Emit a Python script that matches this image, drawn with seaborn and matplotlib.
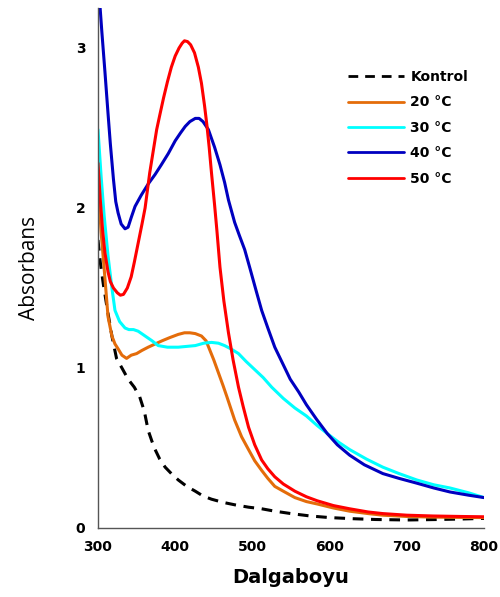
import pandas as pd
import matplotlib.pyplot as plt
import seaborn as sns

# --- data ---
kontrol_x = [300, 303, 307, 313, 318, 324, 331, 339, 347, 354, 360, 365, 370, 374, 380, 387, 395, 404, 415, 426, 436, 447, 462, 477, 495, 512, 529, 550, 575, 600, 630, 660, 700, 740, 770, 800]
kontrol_y = [1.80, 1.66, 1.52, 1.34, 1.20, 1.06, 1.00, 0.93, 0.88, 0.82, 0.73, 0.61, 0.54, 0.49, 0.43, 0.38, 0.34, 0.30, 0.26, 0.23, 0.20, 0.18, 0.16, 0.145, 0.13, 0.12, 0.105, 0.09, 0.075, 0.065, 0.058, 0.053, 0.05, 0.053, 0.056, 0.06]

t20_x = [300, 304, 308, 313, 318, 322, 326, 331, 337, 343, 350, 357, 365, 374, 383, 393, 404, 412, 419, 426, 434, 440, 445, 450, 456, 462, 467, 477, 486, 495, 503, 512, 520, 529, 540, 555, 570, 584, 605, 626, 650, 669, 700, 734, 770, 800]
t20_y = [2.15, 1.85, 1.62, 1.32, 1.20, 1.15, 1.12, 1.08, 1.06, 1.08, 1.09, 1.11, 1.13, 1.15, 1.17, 1.19, 1.21, 1.22, 1.22, 1.215, 1.20, 1.17, 1.11, 1.05, 0.97, 0.89, 0.82, 0.675, 0.57, 0.49, 0.42, 0.36, 0.31, 0.26, 0.23, 0.19, 0.165, 0.15, 0.125, 0.105, 0.09, 0.08, 0.072, 0.068, 0.066, 0.065]

t30_x = [300, 304, 308, 313, 318, 322, 328, 335, 340, 346, 352, 361, 370, 378, 390, 404, 415, 426, 437, 447, 456, 464, 472, 482, 492, 503, 514, 525, 540, 555, 570, 584, 597, 612, 626, 648, 669, 690, 713, 735, 756, 780, 800]
t30_y = [2.49, 2.20, 1.95, 1.70, 1.50, 1.36, 1.29, 1.25, 1.24, 1.24, 1.23, 1.20, 1.17, 1.14, 1.13, 1.13, 1.135, 1.14, 1.155, 1.16, 1.155, 1.14, 1.12, 1.09, 1.04, 0.99, 0.94, 0.88, 0.81, 0.75, 0.70, 0.64, 0.59, 0.535, 0.49, 0.43, 0.38, 0.34, 0.30, 0.27, 0.25, 0.22, 0.19]

t40_x = [300, 302, 305, 309, 313, 316, 320, 323, 326, 330, 335, 339, 343, 348, 356, 365, 374, 382, 391, 400, 407, 413, 419, 426, 431, 436, 443, 451, 458, 464, 469, 477, 483, 490, 497, 505, 512, 520, 529, 540, 549, 560, 570, 583, 597, 610, 626, 645, 669, 690, 713, 735, 756, 780, 800]
t40_y = [3.45, 3.30, 3.10, 2.85, 2.59, 2.40, 2.18, 2.04, 1.97, 1.90, 1.87, 1.88, 1.94, 2.01, 2.08, 2.15, 2.21, 2.27, 2.34, 2.42, 2.47, 2.51, 2.54, 2.56, 2.56, 2.54, 2.49, 2.38, 2.27, 2.16, 2.05, 1.91, 1.83, 1.74, 1.62, 1.48, 1.36, 1.25, 1.13, 1.02, 0.93, 0.85, 0.77, 0.68, 0.59, 0.52, 0.455, 0.395, 0.34, 0.31, 0.28, 0.25, 0.225, 0.205, 0.19]

t50_x = [300, 303, 306, 309, 313, 316, 320, 325, 329, 333, 338, 343, 347, 352, 357, 361, 367, 372, 376, 380, 385, 390, 395, 400, 405, 409, 412, 416, 420, 425, 430, 434, 438, 441, 444, 447, 451, 454, 458, 463, 469, 475, 482, 488, 495, 503, 512, 520, 529, 540, 555, 570, 584, 605, 626, 650, 669, 700, 734, 770, 800]
t50_y = [2.28, 2.05, 1.86, 1.72, 1.60, 1.54, 1.50, 1.47, 1.455, 1.46, 1.50, 1.57, 1.66, 1.78, 1.90, 2.00, 2.22, 2.37, 2.49, 2.58, 2.69, 2.79, 2.88, 2.95, 3.00, 3.03, 3.045, 3.04, 3.02, 2.97, 2.88, 2.78, 2.64, 2.52, 2.38, 2.22, 2.02, 1.86, 1.63, 1.42, 1.22, 1.05, 0.88, 0.76, 0.63, 0.52, 0.425, 0.37, 0.32, 0.275, 0.23, 0.195, 0.17, 0.14, 0.12, 0.10, 0.09, 0.08, 0.075, 0.072, 0.07]

labels = ["Kontrol", "20 °C", "30 °C", "40 °C", "50 °C"]
colors = ["black", "#E46C0A", "#00FFFF", "#0000C0", "#FF0000"]

frames = []
for lab, xs, ys in zip(labels,
                       [kontrol_x, t20_x, t30_x, t40_x, t50_x],
                       [kontrol_y, t20_y, t30_y, t40_y, t50_y]):
    frames.append(pd.DataFrame({"Dalgaboyu": xs, "Absorbans": ys, "Seri": lab}))
df = pd.concat(frames, ignore_index=True)

# --- plot ---
sns.set_style("white")
plt.rcParams["font.family"] = ["DejaVu Sans"]
plt.rcParams["text.color"] = "black"
plt.rcParams["axes.labelcolor"] = "black"
plt.rcParams["xtick.color"] = "black"
plt.rcParams["ytick.color"] = "black"
plt.rcParams["lines.solid_capstyle"] = "round"
plt.rcParams["lines.solid_joinstyle"] = "round"

fig = plt.figure(figsize=(5, 5.97), dpi=100)
ax = fig.add_axes([0.196, 0.1156, 0.772, 0.871])

sns.lineplot(data=df, x="Dalgaboyu", y="Absorbans", hue="Seri", style="Seri",
             palette=dict(zip(labels, colors)),
             dashes={"Kontrol": (3.5, 2.5), "20 °C": "", "30 °C": "", "40 °C": "", "50 °C": ""},
             linewidth=2.2, sort=False, estimator=None, ax=ax)

ax.set_xlim(300, 800)
ax.set_ylim(0, 3.25)
ax.set_xticks([300, 400, 500, 600, 700, 800])
ax.set_yticks([0, 1, 2, 3])
ax.tick_params(axis="both", direction="out", length=5, width=1, color="#555555",
               labelsize=10, pad=4)
for t in ax.get_xticklabels() + ax.get_yticklabels():
    t.set_fontweight("bold")

for s in ["top", "right"]:
    ax.spines[s].set_visible(False)
for s in ["left", "bottom"]:
    ax.spines[s].set_color("#555555")
    ax.spines[s].set_linewidth(1)

ax.set_xlabel("Dalgaboyu", fontsize=14, fontweight="bold", labelpad=10)
ax.set_ylabel("Absorbans", fontsize=15, family="Open Sans", labelpad=26)

leg = ax.legend(loc="center left", bbox_to_anchor=(0.671, 0.786),
                bbox_transform=fig.transFigure, frameon=False,
                handlelength=4, handletextpad=0.5, labelspacing=0.82,
                prop={"weight": "bold", "size": 10})
for line in leg.get_lines():
    line.set_linewidth(2)

fig.savefig("out.png", dpi=100)
